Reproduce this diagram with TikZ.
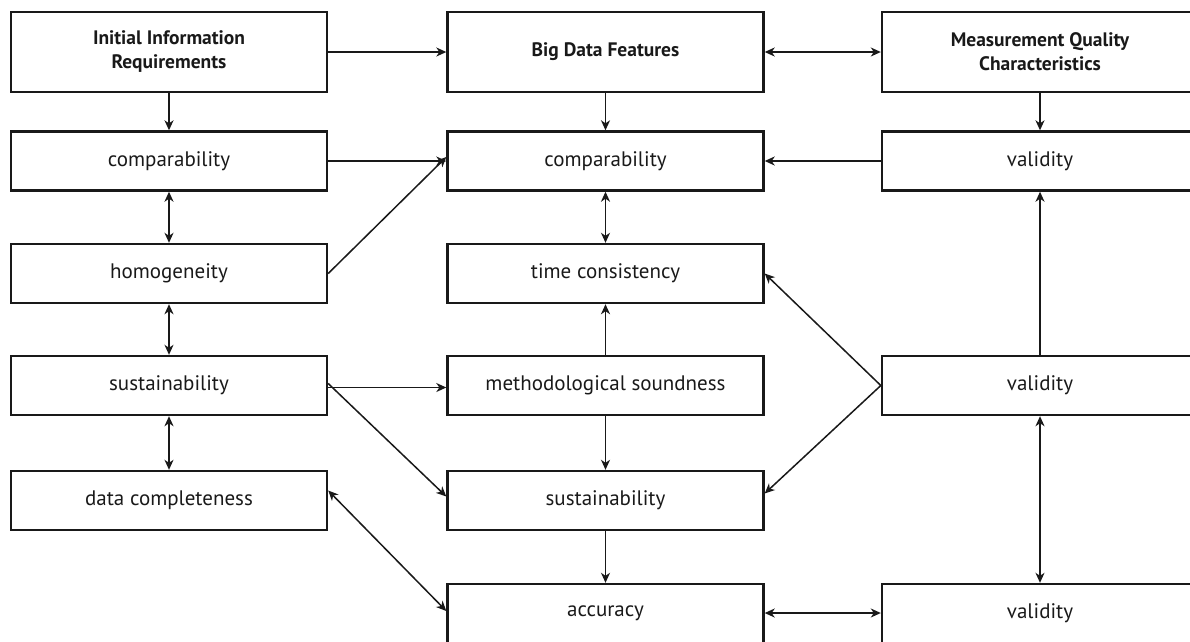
\documentclass[tikz,border=0pt]{standalone}
\usepackage{fontspec}
\setmainfont{PT Sans}
\usetikzlibrary{arrows.meta}
\begin{document}
\begin{tikzpicture}[x=1pt,y=-1pt,
  box/.style={draw=black!90, line width=2.4pt, minimum width=316pt, minimum height=59pt, inner sep=0pt, font=\fontsize{21}{23}\selectfont, text=black!90},
  headbox/.style={box, minimum height=80pt, font=\bfseries\fontsize{19.5}{24}\selectfont, align=center},
  conn/.style={draw=black!90, line width=1.5pt, -{Stealth[length=10pt,width=9pt,inset=3pt]}},
  dconn/.style={draw=black!90, line width=1.5pt, {Stealth[length=10pt,width=9pt,inset=3pt]}-{Stealth[length=10pt,width=9pt,inset=3pt]}}
]
\useasboundingbox (0,0) rectangle (1190,641);
\clip (0,0) rectangle (1190,641);
% column 1
\node[headbox] (iir) at (169,52) {Initial Information\\Requirements};
\node[box] (comp1) at (169,161) {comparability};
\node[box] (homog) at (169,273.5) {homogeneity};
\node[box] (sust1) at (169,385.5) {sustainability};
\node[box] (dcomp) at (169,500.5) {\raisebox{2pt}{data completeness}};
% column 2
\node[headbox] (bdf) at (605.5,52) {Big Data Features};
\node[box] (comp2) at (605.5,161) {comparability};
\node[box] (time) at (605.5,273.5) {time consistency};
\node[box] (meth) at (605.5,385.5) {methodological soundness};
\node[box] (sust2) at (605.5,500.5) {sustainability};
\node[box] (acc) at (605.5,613.5) {\raisebox{4pt}{accuracy}};
% column 3
\node[headbox] (mqc) at (1040,52) {Measurement Quality\\Characteristics};
\node[box] (val2) at (1040,161) {validity};
\node[box] (val4) at (1040,385.5) {validity};
\node[box] (val6) at (1040,613.5) {\raisebox{4pt}{validity}};
% header connectors
\draw[conn] (iir) -- (bdf);
\draw[dconn] (bdf) -- (mqc);
\draw[conn] (iir) -- (comp1);
\draw[conn] (bdf) -- (comp2);
\draw[conn] (mqc) -- (val2);
% column 1
\draw[dconn] (comp1) -- (homog);
\draw[dconn] (homog) -- (sust1);
\draw[dconn] (sust1) -- (dcomp);
% column 2
\draw[dconn] (comp2) -- (time);
\draw[conn] (meth) -- (time);
\draw[conn] (meth) -- (sust2);
\draw[conn] (sust2) -- (acc.north);
% column 3
\draw[conn] (val4) -- (val2);
\draw[dconn] (val4) -- (val6.north);
% cross connectors
\draw[conn] (comp1) -- (comp2);
\draw[conn] (homog.east) -- ([yshift=4pt]comp2.west);
\draw[conn] ([yshift=-2pt]sust1.east) -- ([yshift=-2pt]meth.west);
\draw[conn] ([yshift=2pt]sust1.east) -- ([yshift=4pt]sust2.west);
\draw[dconn] ([yshift=10pt]dcomp.east) -- ([yshift=2.5pt]acc.west);
\draw[conn] (val2) -- (comp2);
\draw[conn] (val4.west) -- (time.east);
\draw[conn] (val4.west) -- ([yshift=7pt]sust2.east);
\draw[dconn] ([yshift=0.5pt]acc.east) -- ([yshift=0.5pt]val6.west);
\end{tikzpicture}
\end{document}
